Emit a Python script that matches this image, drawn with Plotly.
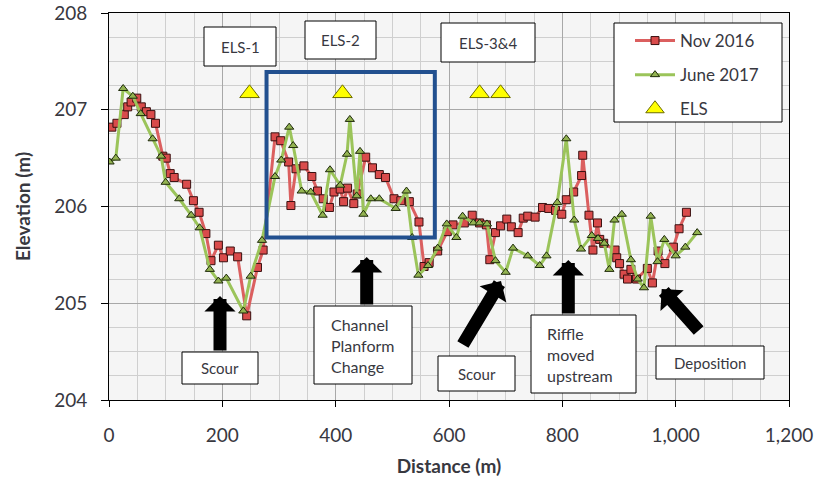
import plotly.graph_objects as go

# ---------------- data ----------------
nov_dist = [5, 14, 27, 33, 39, 49, 57, 66, 74, 82,
            95, 101, 108, 115, 137, 149, 159, 171, 180, 193,
            202, 214, 227, 243, 262, 272, 293, 303, 317, 321,
            330, 344, 358, 368, 378, 389, 397, 408, 414, 421,
            432, 438, 453, 465, 477, 488, 503, 515, 530, 547,
            556, 565, 580, 597, 607, 627, 641, 654, 666, 672,
            682, 691, 702, 710, 722, 731, 739, 752, 765, 776,
            788, 799, 807, 820, 834, 836, 847, 854, 862, 866,
            873, 893, 896, 901, 909, 915, 921, 931, 950, 959,
            969, 981, 996, 1006, 1019]
nov_elev = [206.82, 206.86, 206.95, 207.03, 207.08, 207.12, 207.03, 206.98, 206.95, 206.86,
            206.52, 206.50, 206.34, 206.30, 206.23, 206.06, 205.94, 205.72, 205.44, 205.60,
            205.47, 205.54, 205.48, 204.87, 205.37, 205.55, 206.72, 206.68, 206.46, 206.01,
            206.39, 206.42, 206.31, 206.16, 206.08, 205.99, 206.15, 206.18, 206.05, 206.19,
            206.03, 206.13, 206.51, 206.40, 206.33, 206.30, 206.08, 206.06, 206.05, 205.84,
            205.38, 205.42, 205.54, 205.74, 205.81, 205.83, 205.91, 205.83, 205.81, 205.45,
            205.73, 205.80, 205.87, 205.79, 205.73, 205.88, 205.90, 205.89, 205.99, 205.98,
            205.96, 205.92, 206.07, 206.15, 206.32, 206.53, 205.91, 205.55, 205.83, 205.66,
            205.62, 205.55, 205.47, 205.41, 205.30, 205.25, 205.35, 205.25, 205.36, 205.21,
            205.54, 205.41, 205.58, 205.77, 205.94]

jun_dist = [1, 12, 25, 42, 56, 77, 92, 100, 124, 145,
            160, 178, 193, 207, 237, 250, 270, 293, 304, 318,
            325, 340, 356, 377, 390, 408, 420, 425, 437, 443,
            449, 462, 477, 506, 525, 535, 546, 563, 580, 596,
            613, 624, 643, 654, 667, 682, 700, 713, 739, 760,
            772, 791, 807, 821, 833, 852, 863, 874, 883, 892,
            905, 921, 933, 944, 956, 968, 980, 1000, 1017, 1038]
jun_elev = [206.46, 206.50, 207.22, 207.14, 206.96, 206.70, 206.52, 206.25, 206.08, 205.91,
            205.78, 205.35, 205.23, 205.26, 204.92, 205.28, 205.65, 206.31, 206.48, 206.82,
            206.63, 206.16, 206.15, 205.91, 206.38, 206.22, 206.54, 206.90, 206.11, 206.57,
            205.92, 206.08, 206.08, 205.98, 206.16, 205.68, 205.29, 205.39, 205.57, 205.82,
            205.68, 205.90, 205.83, 205.83, 205.82, 205.44, 205.32, 205.57, 205.49, 205.39,
            205.49, 206.04, 206.70, 205.86, 205.56, 205.70, 205.67, 205.62, 205.35, 205.86,
            205.92, 205.45, 205.25, 205.16, 205.90, 205.43, 205.66, 205.49, 205.58, 205.73]

els_dist = [248, 412, 654, 691]
els_elev = [207.17, 207.17, 207.17, 207.17]

x_tickvals = [0, 200, 400, 600, 800, 1000, 1200]
x_ticktext = ["0", "200", "400", "600", "800", "1,000", "1,200"]
y_tickvals = [204, 205, 206, 207, 208]

assert len(nov_dist) == len(nov_elev)
assert len(jun_dist) == len(jun_elev)

# ---------------- layout geometry ----------------
W, H = 819, 480
ML, MR, MT, MB = 109, 30, 13, 80
PW, PH = W - ML - MR, H - MT - MB
XMIN, XMAX, YMIN, YMAX = 0, 1200, 204, 208


def X(px):
    return XMIN + (px - ML) * (XMAX - XMIN) / PW


def Y(py):
    return YMAX - (py - MT) * (YMAX - YMIN) / PH


def PX(px):
    return (px - ML) / PW


def PY(py):
    return 1 - (py - MT) / PH


FONT = "Lato, 'Open Sans', sans-serif"
TXT = "#38383f"

fig = go.Figure()
fig.add_trace(go.Scatter(
    x=nov_dist, y=nov_elev, mode="lines+markers", name="Nov 2016",
    legendgroup="a",
    line=dict(color="#DB5F5F", width=3),
    marker=dict(symbol="square", size=8, color="#D94B4B",
                line=dict(color="#3a1010", width=1)),
))
fig.add_trace(go.Scatter(
    x=jun_dist, y=jun_elev, mode="lines+markers", name="June 2017",
    legendgroup="b",
    line=dict(color="#9BC45A", width=3),
    marker=dict(symbol="triangle-up", size=8, color="#93B351",
                line=dict(color="#1e2a0a", width=1)),
))
fig.add_trace(go.Scatter(
    x=els_dist, y=els_elev, mode="markers", name="ELS",
    legendgroup="c",
    marker=dict(symbol="triangle-up", size=17, color="#FFFF00",
                line=dict(color="#6b6b00", width=1)),
))

shapes = []
annotations = []

# blue rectangle (channel planform change area)
shapes.append(dict(type="rect", xref="x", yref="y",
                   x0=278, x1=575, y0=205.68, y1=207.39,
                   line=dict(color="#22508F", width=4), layer="above"))


def box(x0, y0, x1, y1):
    shapes.append(dict(type="rect", xref="x", yref="y",
                       x0=X(x0), x1=X(x1), y0=Y(y1), y1=Y(y0),
                       fillcolor="white", line=dict(color="black", width=1),
                       layer="above"))


def label(cx, cy, text, size=15, anchor="center"):
    annotations.append(dict(x=X(cx), y=Y(cy), xref="x", yref="y", text=text,
                            showarrow=False, xanchor=anchor, yanchor="middle",
                            align="left", font=dict(family=FONT, size=size, color=TXT)))


# top label boxes
box(204, 27, 276, 66); label(240, 46.5, "ELS-1")
box(305, 21, 376, 59); label(340.5, 40, "ELS-2")
box(441, 23, 535, 62); label(488, 42.5, "ELS-3&4")

# bottom label boxes
box(182, 352, 258, 384); label(220, 368, "Scour")
box(314, 306, 412, 384); label(329, 345, "Channel<br>Planform<br>Change", size=16, anchor="left")
box(438, 356, 515, 391); label(476.5, 373.5, "Scour")
box(531, 315, 636, 393); label(545, 354, "Riffle<br>moved<br>upstream", size=16, anchor="left")
box(656, 346, 764, 379); label(710, 362.5, "Deposition")

# legend box
box(614, 23, 782, 122)


def arrow(tipx, tipy, tailx, taily):
    annotations.append(dict(x=X(tipx), y=Y(tipy), xref="x", yref="y",
                            ax=tailx - tipx, ay=taily - tipy, text="",
                            showarrow=True, arrowhead=1, arrowsize=0.4,
                            arrowwidth=13, arrowcolor="black", standoff=0))


arrow(220, 296, 220, 352)
arrow(366.7, 257, 366.7, 306)
arrow(501, 281, 462, 346)
arrow(568.3, 260, 568.3, 315)
arrow(661.7, 289, 700, 332)

fig.update_layout(
    width=W, height=H,
    margin=dict(l=ML, r=MR, t=MT, b=MB, pad=0, autoexpand=False),
    paper_bgcolor="white", plot_bgcolor="#F5F5F5",
    font=dict(family=FONT, color=TXT),
    shapes=shapes, annotations=annotations,
    showlegend=True,
    legend=dict(x=PX(630), y=PY(23), xanchor="left", yanchor="top",
                bgcolor="rgba(0,0,0,0)", borderwidth=0,
                font=dict(family=FONT, size=17, color=TXT),
                itemwidth=40, tracegroupgap=9, traceorder="grouped"),
)
fig.update_xaxes(
    range=[XMIN, XMAX], tickvals=x_tickvals, ticktext=x_ticktext,
    ticks="outside", ticklen=6, tickcolor="black",
    showline=True, linecolor="black", linewidth=1, mirror=True,
    showgrid=True, gridcolor="#A8A8A8", gridwidth=1,
    minor=dict(dtick=50, showgrid=True, gridcolor="#CFCFCF", ticks=""),
    tickfont=dict(family=FONT, size=19, color=TXT),
    ticklabelstandoff=12, automargin=False,
    title=dict(text="<b>Distance (m)</b>", font=dict(family=FONT, size=19, color=TXT), standoff=14),
    zeroline=False,
)
fig.update_yaxes(
    range=[YMIN, YMAX], tickvals=y_tickvals,
    ticks="outside", ticklen=7, tickcolor="black",
    showline=True, linecolor="black", linewidth=1, mirror=True,
    showgrid=True, gridcolor="#A8A8A8", gridwidth=1,
    minor=dict(dtick=0.25, showgrid=True, gridcolor="#CFCFCF", ticks=""),
    tickfont=dict(family=FONT, size=19, color=TXT),
    ticklabelstandoff=10, automargin=False,
    title=dict(text="<b>Elevation (m)</b>", font=dict(family=FONT, size=19, color=TXT), standoff=18),
    zeroline=False,
)

fig.write_html("out.html")
